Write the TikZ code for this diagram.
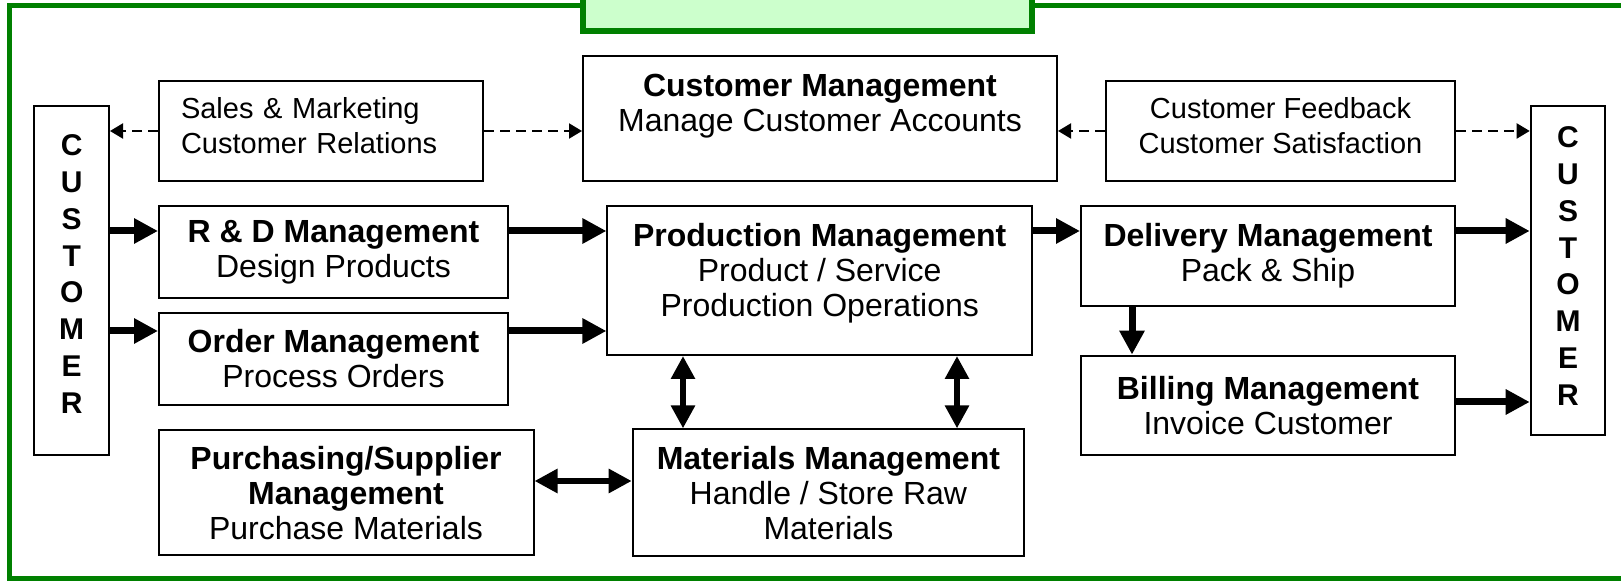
\documentclass[tikz,border=0pt]{standalone}
\usepackage{fontspec}
\setmainfont{Liberation Sans}
\usetikzlibrary{arrows.meta}

\definecolor{framegreen}{HTML}{008000}
\definecolor{titlefill}{HTML}{CCFFCC}

\begin{document}
\begin{tikzpicture}[x=0.5pt, y=-0.5pt,
		procbox/.style={draw, line width=1pt, align=center, inner sep=0pt, font=\fontsize{16pt}{17.5pt}\selectfont},
		sidebox/.style={procbox, font=\fontsize{14.5pt}{17.5pt}\selectfont},
		custbox/.style={procbox, font=\fontsize{15pt}{18.4pt}\selectfont\bfseries},
		flow/.style={line width=3.5pt, -{Triangle[length=12pt,width=12pt]}},
		twoway/.style={line width=3pt, {Triangle[length=11.5pt,width=11.5pt]}-{Triangle[length=11.5pt,width=11.5pt]}},
		info/.style={line width=1pt, dash pattern=on 5pt off 3pt, -{Triangle[length=6.5pt,width=7.5pt]}}]
		
		\useasboundingbox (0,0) rectangle (1621,581);
		
		% frame and title tab
		\draw[framegreen, line width=2.5pt] (9.5,6) rectangle (1660,579);
		\filldraw[fill=titlefill, draw=framegreen, line width=3pt] (582.6,-40) rectangle (1031.6,31.3);
		
		\node[custbox, minimum width=37.3pt, minimum height=174.5pt, text depth=6.5pt] (custL) at (71.7,280.5) {C\\U\\S\\T\\O\\M\\E\\R};
		\node[custbox, minimum width=37.3pt, minimum height=164.5pt, text depth=4.5pt] (custR) at (1568,270.5) {C\\U\\S\\T\\O\\M\\E\\R};
		
		\node[sidebox, align=left, text width=140pt, minimum width=162pt, minimum height=50pt, text depth=23pt] (sales) at (321,131) {Sales \& Marketing\\Customer Relations};
		\node[procbox, minimum width=237pt, minimum height=62.5pt, text depth=16pt] (cm) at (820,118.5) {\textbf{Customer Management}\\Manage Customer Accounts};
		\node[sidebox, minimum width=174.5pt, minimum height=50pt, text depth=5.5pt] (feedback) at (1280.5,131) {Customer Feedback\\Customer Satisfaction};
		
		\node[procbox, minimum width=174.5pt, minimum height=46pt] (rd) at (333.5,252) {\textbf{R \& D Management}\\Design Products};
		\node[procbox, minimum width=174.5pt, minimum height=46pt] (order) at (333.5,359) {\textbf{Order Management}\\Process Orders};
		\node[procbox, minimum width=212.3pt, minimum height=74.5pt, text depth=11pt] (prod) at (819.7,280.5) {\textbf{Production Management}\\Product / Service\\Production Operations};
		\node[procbox, minimum width=187pt, minimum height=50pt] (delivery) at (1268,256) {\textbf{Delivery Management}\\Pack \& Ship};
		\node[procbox, minimum width=187pt, minimum height=49.7pt] (billing) at (1268,405.3) {\textbf{Billing Management}\\Invoice Customer};
		\node[procbox, minimum width=187.5pt, minimum height=62.5pt] (purch) at (346,493) {\textbf{Purchasing/Supplier}\\\textbf{Management}\\Purchase Materials};
		\node[procbox, minimum width=195.7pt, minimum height=63.3pt] (mat) at (828.4,492.7) {\textbf{Materials Management}\\Handle / Store Raw\\Materials};
		
		% dashed information links
		\draw[info] (sales.west |- 0,131) -- (custL.east |- 0,131);
		\draw[info] (sales.east |- 0,131) -- (cm.west |- 0,131);
		\draw[info] (feedback.west |- 0,131) -- (cm.east |- 0,131);
		\draw[info] (feedback.east |- 0,131) -- (custR.west |- 0,131);
		
		\draw[flow] (custL.east |- 0,231) -- (rd.west |- 0,231);
		\draw[flow] (custL.east |- 0,331) -- (order.west |- 0,331);
		\draw[flow] (rd.east |- 0,231) -- (prod.west |- 0,231);
		\draw[flow] (order.east |- 0,331) -- (prod.west |- 0,331);
		\draw[flow] (prod.east |- 0,231) -- (delivery.west |- 0,231);
		\draw[flow] (delivery.east |- 0,231) -- (custR.west |- 0,231);
		\draw[flow] (billing.east |- 0,402) -- (custR.west |- 0,402);
		\draw[flow] (delivery.south -| 1132,0) -- (billing.north -| 1132,0);
		
		\draw[twoway] (prod.south -| 683,0) -- (mat.north -| 683,0);
		\draw[twoway] (prod.south -| 957,0) -- (mat.north -| 957,0);
		\draw[twoway] (purch.east |- 0,481) -- (mat.west |- 0,481);
		
	\end{tikzpicture}
\end{document}
